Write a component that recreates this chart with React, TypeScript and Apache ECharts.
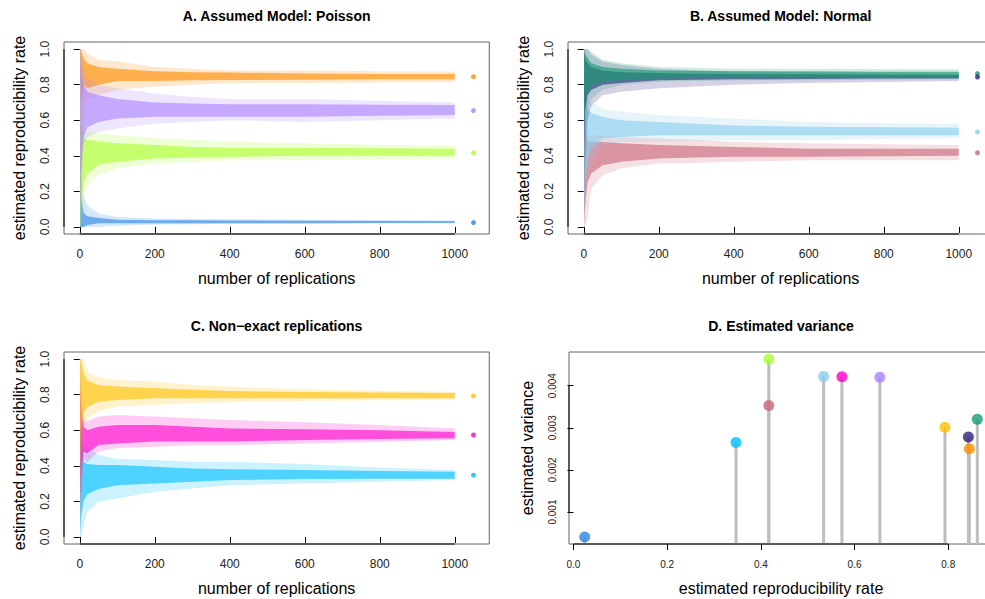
import React, { useEffect, useRef } from "react";
import * as echarts from "echarts";

// ---------- data ----------
const replicationSteps = [1, 3, 10, 20, 50, 100, 200, 300, 400, 600, 800, 1000];
const repXTicks = [0, 200, 400, 600, 800, 1000];
const repYTicks = [0, 0.2, 0.4, 0.6, 0.8, 1.0];
const varXTicks = [0, 0.2, 0.4, 0.6, 0.8];
const varYTicks = [0.001, 0.002, 0.003, 0.004];
const finalX = 1050;

// Panel A (Poisson): outer envelope and dense core of the simulated traces
const poisOrangeHi = [1.0, 1.0, 1.0, 0.975, 0.94, 0.93, 0.9, 0.89, 0.88, 0.88, 0.875, 0.872];
const poisOrangeLo = [0.0, 0.33, 0.6, 0.72, 0.74, 0.77, 0.79, 0.8, 0.81, 0.81, 0.812, 0.815];
const poisOrangeCoreHi = [1.0, 1.0, 0.95, 0.92, 0.9, 0.89, 0.876, 0.87, 0.868, 0.863, 0.86, 0.86];
const poisOrangeCoreLo = [0.9, 0.67, 0.8, 0.78, 0.8, 0.82, 0.82, 0.825, 0.826, 0.828, 0.83, 0.831];

const poisPurpleHi = [1.0, 1.0, 0.89, 0.835, 0.8, 0.78, 0.75, 0.73, 0.72, 0.72, 0.71, 0.7];
const poisPurpleLo = [0.0, 0.15, 0.46, 0.5, 0.535, 0.553, 0.58, 0.59, 0.6, 0.59, 0.6, 0.61];
const poisPurpleCoreHi = [1.0, 0.9, 0.8, 0.76, 0.74, 0.72, 0.7, 0.694, 0.69, 0.69, 0.687, 0.685];
const poisPurpleCoreLo = [0.0, 0.3, 0.5, 0.56, 0.59, 0.61, 0.62, 0.62, 0.62, 0.62, 0.625, 0.63];

const poisLimeHi = [1.0, 0.8, 0.535, 0.535, 0.525, 0.516, 0.5, 0.49, 0.48, 0.47, 0.462, 0.456];
const poisLimeLo = [0.0, 0.0, 0.18, 0.235, 0.29, 0.33, 0.356, 0.366, 0.375, 0.375, 0.38, 0.385];
const poisLimeCoreHi = [1.0, 0.6, 0.5, 0.49, 0.48, 0.47, 0.46, 0.45, 0.445, 0.445, 0.442, 0.44];
const poisLimeCoreLo = [0.0, 0.1, 0.25, 0.3, 0.35, 0.366, 0.385, 0.39, 0.394, 0.4, 0.4, 0.4];

const poisBlueHi = [1.0, 0.5, 0.18, 0.12, 0.075, 0.056, 0.047, 0.045, 0.043, 0.04, 0.039, 0.038];
const poisBlueLo = [0.0, 0.0, 0.0, 0.0, 0.0, 0.006, 0.013, 0.015, 0.017, 0.018, 0.019, 0.02];
const poisBlueCoreHi = [0.5, 0.2, 0.08, 0.06, 0.05, 0.04, 0.038, 0.037, 0.036, 0.034, 0.033, 0.032];
const poisBlueCoreLo = [0.0, 0.0, 0.0, 0.01, 0.02, 0.02, 0.02, 0.02, 0.02, 0.021, 0.022, 0.022];

// Panel B (Normal)
const normTealHi = [1.0, 1.0, 1.0, 0.985, 0.94, 0.92, 0.9, 0.895, 0.89, 0.89, 0.888, 0.887];
const normTealLo = [0.2, 0.5, 0.666, 0.72, 0.77, 0.8, 0.816, 0.82, 0.825, 0.825, 0.828, 0.83];
const normTealCoreHi = [1.0, 0.98, 0.95, 0.92, 0.9, 0.89, 0.88, 0.878, 0.876, 0.875, 0.873, 0.872];
const normTealCoreLo = [0.5, 0.7, 0.76, 0.79, 0.816, 0.825, 0.835, 0.838, 0.84, 0.84, 0.84, 0.842];

const normNavyHi = [1.0, 1.0, 1.0, 0.97, 0.93, 0.91, 0.89, 0.88, 0.875, 0.87, 0.867, 0.865];
const normNavyLo = [0.0, 0.3, 0.6, 0.68, 0.74, 0.76, 0.78, 0.79, 0.8, 0.81, 0.815, 0.82];
const normNavyCoreHi = [1.0, 0.95, 0.92, 0.9, 0.88, 0.87, 0.865, 0.862, 0.86, 0.858, 0.856, 0.855];
const normNavyCoreLo = [0.4, 0.65, 0.74, 0.77, 0.8, 0.81, 0.825, 0.828, 0.83, 0.832, 0.834, 0.835];

const normSkyHi = [1.0, 0.95, 0.72, 0.7, 0.666, 0.647, 0.63, 0.62, 0.61, 0.59, 0.585, 0.58];
const normSkyLo = [0.0, 0.1, 0.29, 0.366, 0.46, 0.478, 0.478, 0.485, 0.488, 0.488, 0.495, 0.5];
const normSkyCoreHi = [0.9, 0.8, 0.66, 0.64, 0.62, 0.6, 0.59, 0.58, 0.57, 0.563, 0.56, 0.557];
const normSkyCoreLo = [0.1, 0.25, 0.38, 0.44, 0.5, 0.506, 0.516, 0.516, 0.516, 0.516, 0.516, 0.516];

const normRoseHi = [0.9, 0.7, 0.52, 0.516, 0.516, 0.506, 0.497, 0.49, 0.478, 0.47, 0.465, 0.46];
const normRoseLo = [0.0, 0.0, 0.05, 0.216, 0.29, 0.33, 0.356, 0.36, 0.366, 0.375, 0.375, 0.375];
const normRoseCoreHi = [0.7, 0.55, 0.48, 0.48, 0.478, 0.47, 0.46, 0.455, 0.45, 0.44, 0.44, 0.44];
const normRoseCoreLo = [0.0, 0.1, 0.25, 0.3, 0.347, 0.366, 0.385, 0.39, 0.394, 0.394, 0.397, 0.4];

// Panel C (non-exact)
const nonGoldHi = [1.0, 1.0, 1.0, 0.93, 0.9, 0.883, 0.874, 0.855, 0.846, 0.83, 0.822, 0.817];
const nonGoldLo = [0.0, 0.3, 0.61, 0.667, 0.705, 0.733, 0.742, 0.752, 0.757, 0.765, 0.768, 0.77];
const nonGoldCoreHi = [1.0, 1.0, 0.92, 0.88, 0.855, 0.846, 0.836, 0.827, 0.82, 0.815, 0.812, 0.81];
const nonGoldCoreLo = [0.3, 0.6, 0.7, 0.73, 0.76, 0.77, 0.78, 0.78, 0.78, 0.78, 0.78, 0.78];

const nonMagentaHi = [1.0, 0.9, 0.65, 0.65, 0.677, 0.686, 0.677, 0.667, 0.658, 0.645, 0.63, 0.61];
const nonMagentaLo = [0.0, 0.2, 0.44, 0.42, 0.48, 0.5, 0.507, 0.517, 0.517, 0.526, 0.535, 0.545];
const nonMagentaCoreHi = [0.9, 0.75, 0.62, 0.6, 0.62, 0.63, 0.63, 0.62, 0.61, 0.605, 0.6, 0.59];
const nonMagentaCoreLo = [0.2, 0.35, 0.48, 0.47, 0.517, 0.526, 0.536, 0.536, 0.536, 0.545, 0.55, 0.555];

const nonCyanHi = [1.0, 0.8, 0.517, 0.498, 0.46, 0.44, 0.432, 0.423, 0.423, 0.41, 0.39, 0.376];
const nonCyanLo = [0.0, 0.0, 0.066, 0.14, 0.197, 0.216, 0.254, 0.272, 0.29, 0.3, 0.31, 0.32];
const nonCyanCoreHi = [0.8, 0.6, 0.42, 0.41, 0.404, 0.404, 0.395, 0.385, 0.38, 0.376, 0.37, 0.366];
const nonCyanCoreLo = [0.0, 0.1, 0.2, 0.24, 0.27, 0.29, 0.3, 0.31, 0.32, 0.325, 0.327, 0.327];

// Final estimates (dots at right of A-C, x in D) and estimated variances (D)
const poissonFinal = [0.845, 0.654, 0.417, 0.024]; // orange, purple, lime, blue
const normalFinal = [0.862, 0.843, 0.534, 0.417]; // teal, navy, sky, rose
const nonExactFinal = [0.793, 0.573, 0.347]; // gold, magenta, cyan
const poissonVariance = [0.0025, 0.0042, 0.00463, 0.00041];
const normalVariance = [0.0032, 0.00278, 0.00422, 0.00353];
const nonExactVariance = [0.00301, 0.00421, 0.00265];

// ---------- styles ----------
const poissonColors = ["#FF8C00", "#AB82FF", "#ADFF2F", "#2F86E4"];
const normalColors = ["#159A70", "#2E1F7F", "#87CEEB", "#CC6677"];
const nonExactColors = ["#FFC000", "#FF00CC", "#00BFFF"];
const FONT = "'Liberation Sans', Arial, Helvetica, sans-serif";

const GRIDS = [
  { left: 64, top: 42, width: 425.25, height: 192 },
  { left: 568, top: 42, width: 425.25, height: 192 },
  { left: 64, top: 352, width: 425.25, height: 192 },
  { left: 569, top: 352, width: 424, height: 192 },
];

function ext(vals: number[]) {
  const mn = Math.min(...vals);
  const mx = Math.max(...vals);
  const p = (mx - mn) * 0.04;
  return [mn - p, mx + p];
}

export default function App() {
  const ref = useRef<HTMLDivElement>(null);
  useEffect(() => {
    document.body.style.margin = "0";
    if (!ref.current) return;
    const chart = echarts.init(ref.current, null, { renderer: "svg" });

    const [repXMin, repXMax] = ext([0, finalX]);
    const [repYMin, repYMax] = ext([0, 1]);
    const allRates = [...poissonFinal, ...normalFinal, ...nonExactFinal];
    const allVars = [...poissonVariance, ...normalVariance, ...nonExactVariance];
    const allColors = [...poissonColors, ...normalColors, ...nonExactColors];
    const [dXMin, dXMax] = ext(allRates);
    const [dYMin, dYMax] = ext(allVars);

    const band = (g: number, color: string, hi: number[], lo: number[], chi: number[], clo: number[]) => ({
      type: "custom",
      xAxisIndex: g,
      yAxisIndex: g,
      silent: true,
      data: [[replicationSteps[0], hi[0]]],
      renderItem: (_p: any, api: any) => {
        const outer = [
          ...replicationSteps.map((x, i) => api.coord([x, hi[i]])),
          ...replicationSteps.map((x, i) => api.coord([x, lo[i]])).reverse(),
        ];
        const inner = [
          ...replicationSteps.map((x, i) => api.coord([x, chi[i]])),
          ...replicationSteps.map((x, i) => api.coord([x, clo[i]])).reverse(),
        ];
        return {
          type: "group",
          children: [
            { type: "polygon", shape: { points: outer }, style: { fill: color, opacity: 0.2 } },
            { type: "polygon", shape: { points: inner }, style: { fill: color, opacity: 0.62 } },
          ],
        };
      },
    });

    const axisSeg = (g: number, pts: number[][]) => ({
      type: "line",
      xAxisIndex: g,
      yAxisIndex: g,
      data: pts,
      symbol: "none",
      clip: false,
      silent: true,
      lineStyle: { color: "#000", width: 1 },
      z: 5,
    });

    const endDots = (g: number, vals: number[], colors: string[]) => ({
      type: "scatter",
      xAxisIndex: g,
      yAxisIndex: g,
      symbolSize: 5,
      silent: true,
      data: vals.map((v, i) => ({ value: [finalX, v], itemStyle: { color: colors[i] } })),
    });

    const repX = (g: number) => ({
      type: "value",
      gridIndex: g,
      min: repXMin,
      max: repXMax,
      axisLine: { show: false },
      splitLine: { show: false },
      axisTick: { show: true, length: 6, customValues: repXTicks, lineStyle: { color: "#000" } },
      axisLabel: {
        customValues: repXTicks,
        margin: 14,
        fontSize: 12,
        color: "#222",
        fontFamily: FONT,
        formatter: (v: number) => String(v),
      },
    });
    const repY = (g: number) => ({
      type: "value",
      gridIndex: g,
      min: repYMin,
      max: repYMax,
      axisLine: { show: false },
      splitLine: { show: false },
      axisTick: { show: true, length: 6, customValues: repYTicks, lineStyle: { color: "#000" } },
      axisLabel: {
        customValues: repYTicks,
        rotate: 90,
        margin: 13,
        fontSize: 12,
        color: "#222",
        fontFamily: FONT,
        formatter: (v: number) => v.toFixed(1),
      },
    });

    const txt = (text: string, x: number, y: number, size: number, bold = false, rot = 0) => ({
      type: "text",
      x,
      y,
      rotation: rot,
      silent: true,
      style: {
        text,
        fontSize: size,
        fontWeight: bold ? "bold" : "normal",
        fontFamily: FONT,
        fill: "#000",
        textAlign: "center",
        textVerticalAlign: "middle",
      },
    });

    const cxA = GRIDS[0].left + GRIDS[0].width / 2;
    const cxB = GRIDS[1].left + GRIDS[1].width / 2;
    const cxD = GRIDS[3].left + GRIDS[3].width / 2;
    const R = Math.PI / 2;

    const option: any = {
      animation: false,
      backgroundColor: "#fff",
      grid: GRIDS.map((g) => ({
        ...g,
        show: true,
        borderColor: "#666",
        borderWidth: 1,
        backgroundColor: "transparent",
        containLabel: false,
        outerBoundsMode: "none",
      })),
      xAxis: [
        repX(0),
        repX(1),
        repX(2),
        {
          type: "value",
          gridIndex: 3,
          min: dXMin,
          max: dXMax,
          axisLine: { show: false },
          splitLine: { show: false },
          axisTick: { show: true, length: 6, customValues: varXTicks, lineStyle: { color: "#000" } },
          axisLabel: {
            customValues: varXTicks,
            margin: 15,
            fontSize: 10,
            color: "#222",
            fontFamily: FONT,
            formatter: (v: number) => v.toFixed(1),
          },
        },
      ],
      yAxis: [
        repY(0),
        repY(1),
        repY(2),
        {
          type: "value",
          gridIndex: 3,
          min: dYMin,
          max: dYMax,
          axisLine: { show: false },
          splitLine: { show: false },
          axisTick: { show: true, length: 6, customValues: varYTicks, lineStyle: { color: "#000" } },
          axisLabel: {
            customValues: varYTicks,
            rotate: 90,
            margin: 12,
            fontSize: 10,
            color: "#222",
            fontFamily: FONT,
            formatter: (v: number) => v.toFixed(3),
          },
        },
      ],
      series: [
        // Panel A
        band(0, poissonColors[3], poisBlueHi, poisBlueLo, poisBlueCoreHi, poisBlueCoreLo),
        band(0, poissonColors[0], poisOrangeHi, poisOrangeLo, poisOrangeCoreHi, poisOrangeCoreLo),
        band(0, poissonColors[2], poisLimeHi, poisLimeLo, poisLimeCoreHi, poisLimeCoreLo),
        band(0, poissonColors[1], poisPurpleHi, poisPurpleLo, poisPurpleCoreHi, poisPurpleCoreLo),
        endDots(0, poissonFinal, poissonColors),
        // Panel B
        band(1, normalColors[3], normRoseHi, normRoseLo, normRoseCoreHi, normRoseCoreLo),
        band(1, normalColors[2], normSkyHi, normSkyLo, normSkyCoreHi, normSkyCoreLo),
        band(1, normalColors[1], normNavyHi, normNavyLo, normNavyCoreHi, normNavyCoreLo),
        band(1, normalColors[0], normTealHi, normTealLo, normTealCoreHi, normTealCoreLo),
        endDots(1, normalFinal, normalColors),
        // Panel C
        band(2, nonExactColors[2], nonCyanHi, nonCyanLo, nonCyanCoreHi, nonCyanCoreLo),
        band(2, nonExactColors[1], nonMagentaHi, nonMagentaLo, nonMagentaCoreHi, nonMagentaCoreLo),
        band(2, nonExactColors[0], nonGoldHi, nonGoldLo, nonGoldCoreHi, nonGoldCoreLo),
        endDots(2, nonExactFinal, nonExactColors),
        // Panel D stems and dots
        {
          type: "custom",
          xAxisIndex: 3,
          yAxisIndex: 3,
          silent: true,
          data: allRates.map((r, i) => [r, allVars[i]]),
          renderItem: (_p: any, api: any) => {
            const top = api.coord([api.value(0), api.value(1)]);
            const bot = api.coord([api.value(0), dYMin]);
            return {
              type: "line",
              shape: { x1: top[0], y1: top[1], x2: bot[0], y2: bot[1] },
              style: { stroke: "#BEBEBE", lineWidth: 3 },
            };
          },
        },
        {
          type: "scatter",
          xAxisIndex: 3,
          yAxisIndex: 3,
          symbolSize: 11,
          silent: true,
          z: 4,
          data: allRates.map((r, i) => ({ value: [r, allVars[i]], itemStyle: { color: allColors[i] } })),
        },
        // R-style axis lines (first to last tick)
        axisSeg(0, [[repXTicks[0], repYMin], [repXTicks[repXTicks.length - 1], repYMin]]),
        axisSeg(0, [[repXMin, repYTicks[0]], [repXMin, repYTicks[repYTicks.length - 1]]]),
        axisSeg(1, [[repXTicks[0], repYMin], [repXTicks[repXTicks.length - 1], repYMin]]),
        axisSeg(1, [[repXMin, repYTicks[0]], [repXMin, repYTicks[repYTicks.length - 1]]]),
        axisSeg(2, [[repXTicks[0], repYMin], [repXTicks[repXTicks.length - 1], repYMin]]),
        axisSeg(2, [[repXMin, repYTicks[0]], [repXMin, repYTicks[repYTicks.length - 1]]]),
        axisSeg(3, [[varXTicks[0], dYMin], [varXTicks[varXTicks.length - 1], dYMin]]),
        axisSeg(3, [[dXMin, varYTicks[0]], [dXMin, varYTicks[varYTicks.length - 1]]]),
      ],
      graphic: [
        txt("A. Assumed Model: Poisson", cxA, 16, 14, true),
        txt("B. Assumed Model: Normal", cxB, 16, 14, true),
        txt("C. Non\u2212exact replications", cxA, 326, 14, true),
        txt("D. Estimated variance", cxD, 326, 14, true),
        txt("number of replications", cxA, 278, 16),
        txt("number of replications", cxB, 278, 16),
        txt("number of replications", cxA, 588, 16),
        txt("estimated reproducibility rate", cxD, 588, 16),
        txt("estimated reproducibility rate", 19, 138, 16, false, R),
        txt("estimated reproducibility rate", 523, 138, 16, false, R),
        txt("estimated reproducibility rate", 19, 448, 16, false, R),
        txt("estimated variance", 527, 448, 16, false, R),
      ],
    };
    chart.setOption(option);
    return () => chart.dispose();
  }, []);
  return <div ref={ref} style={{ width: 985, height: 599 }} />;
}
